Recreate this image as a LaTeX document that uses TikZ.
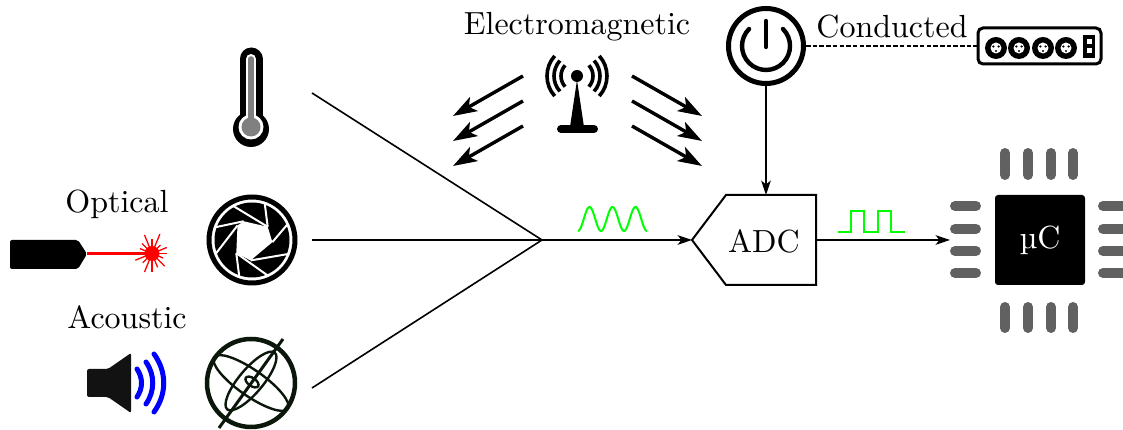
\documentclass[tikz,border=0pt]{standalone}
\usepackage{tikz}
\usetikzlibrary{
	arrows.meta,
	calc,
}
\def\px{0.3125pt}
\definecolor{chipgray}{gray}{0.38}
\definecolor{signal}{rgb}{0,1,0}
\definecolor{gimbal}{rgb}{0.04,0.09,0.04}
\tikzset{caption/.style={inner sep=0mm,font=\normalsize,}}
\tikzset{wire/.style={line width=1.6*\px,}}
\tikzset{signal line/.style={signal,line width=2*\px,}}
\tikzset{chip pin/.style={chipgray,line width=10*\px,line cap=round,}}
\tikzset{emission/.style={line width=3.4*\px,-{Stealth[length=7.5pt,width=5pt,inset=1.8pt]},}}
\tikzset{>={Stealth[length=4.5pt,width=3pt,inset=1.2pt]},}

\begin{document}
\begin{tikzpicture}[x=\px,y=-\px,wire]

\useasboundingbox (0,0) rectangle (1123,430);

\node[caption](electromagnetic) at(577,27){Electromagnetic};
\node[caption](conducted) at(892,27){Conducted};
\node[caption](optical) at(117,204){Optical};
\node[caption](acoustic) at(127,317){Acoustic};

\coordinate(thermo out) at(312,93);
\coordinate(optical out) at(312,240);
\coordinate(acoustic out) at(312,388);
\coordinate(mix) at(542,240);
\coordinate(adc in) at(692,240);
\coordinate(adc top) at(766,195);
\coordinate(adc out) at(816,240);
\coordinate(chip in) at(950,240);

\foreach \n in {thermo,optical,acoustic}{
	\draw (\n\space out) -- (mix);
}
\draw[->] (mix) -- (adc in);
\draw[->] (adc out) -- (chip in);

\draw[line width=2*\px] (adc in) -- (726,195) -- (816,195) -- (816,285) -- (726,285) -- cycle;
\node[caption](adc) at(764,241){ADC};

\draw[signal line,domain=578:647,samples=70,smooth] plot (\x,{219+12*cos((\x-578)/23*360)});
\draw[signal line] (838,232) -- (851,232) -- (851,211) -- (864,211) -- (864,232) -- (878,232) -- (878,211) -- (891,211) -- (891,232) -- (905,232);

\fill[black,rounded corners=3*\px] (995,195) -- (1085,195) -- (1085,285) -- (995,285) -- cycle;
\node[caption,white](chip) at(1040,240){\char"00B5 C};
\foreach \y in {206,229,251,273}{
	\draw[chip pin] (955,\y) -- (976,\y);
	\draw[chip pin] (1103,\y) -- (1130,\y);
}
\foreach \x in {1005,1028,1051,1073}{
	\draw[chip pin] (\x,153) -- (\x,175);
	\draw[chip pin] (\x,307) -- (\x,328);
}

\node[draw,circle,inner sep=0mm,minimum size=75*\px,line width=5*\px](power) at(766,46){};
\draw[line width=4.4*\px,line cap=round] (783,29) arc (-45:225:24);
\draw[line width=4.4*\px,line cap=round] (766,21) -- (766,47);
\draw[->] (power) -- (adc top);

\node[draw,rectangle,rounded corners=5*\px,inner sep=0mm,minimum width=123*\px,minimum height=36*\px,line width=3*\px](strip) at(1039.5,46){};
\draw[dash pattern=on 4.5*\px off 2.2*\px,line width=1.6*\px] (power) -- (strip);
\foreach \x in {996,1019,1043,1066}{
	\fill[black] (\x,48) circle (11);
	\fill[white] (\x,48) circle (5.5);
	\foreach \a in {90,-30,-150}{
		\fill[black] ($(\x,48)+(\a:3)$) circle (1.2);
	}
}
\fill[black] (1083,35) rectangle (1095,58);
\foreach \y in {42,51}{
	\fill[white] (1087,\y-2.5) rectangle (1092,\y+2.5);
}

\fill[black] (577,76) circle (6);
\fill[black] (577,80) -- (584,127) -- (570,127) -- cycle;
\draw[line width=8*\px,line cap=round] (561,129) -- (594,129);
\foreach \r in {16,23,30}{
	\draw[line width=3.6*\px] ($(577,76)+(-42:\r)$) arc (-42:42:\r);
	\draw[line width=3.6*\px] ($(577,76)+(138:\r)$) arc (138:222:\r);
}

\foreach \y in {76,101,126}{
	\coordinate(left start) at(523,\y);
	\coordinate(left tip) at(453,\y+40);
	\coordinate(right start) at(632,\y);
	\coordinate(right tip) at(702,\y+40);
	\draw[emission] (left start) -- (left tip);
	\draw[emission] (right start) -- (right tip);
}

\draw[line width=23*\px,line cap=round] (251,59) -- (251,127);
\fill[black] (251,129) circle (18);
\draw[white,line width=10*\px,line cap=round] (251,59) -- (251,127);
\fill[white] (251,127) circle (12.5);
\draw[black!50,line width=5.5*\px,line cap=round] (251,59) -- (251,127);
\fill[black!50] (251,127) circle (9.5);

\draw[line width=5*\px] (252,240) circle (43);
\fill[black] (252,240) circle (37.5);
\foreach \n/\a in {1/-40,2/6,3/94,4/140,5/225,6/246}{
	\coordinate(hole\n) at($(252,240)+(\a:20.5)$);
}
\fill[white] (hole1) -- (hole2) -- (hole3) -- (hole4) -- (hole5) -- (hole6) -- cycle;
\foreach \a/\n in {-119/1,-71/1,-24/2,21/3,66/4,109/4,159/5,199/6}{
	\draw[white,line width=2*\px] ($(252,240)+(\a:39)$) -- (hole\n);
}

\fill[black,rounded corners=2*\px] (10,240) -- (78,240) -- (87,254) -- (78,269) -- (10,269) -- cycle;
\draw[red,line width=3.2*\px] (87,253.5) -- (152,253.5);
\fill[red] (152,253.5) circle (7.5);
\foreach \a/\r in {0/15,22/12,45/18,68/15,90/19,112/20,135/13,158/18,180/15,202/13,225/14,248/20,270/14,292/21,315/12,338/16}{
	\draw[red,line width=1.3*\px] (152,253.5) -- ++(\a:\r);
}

\fill[black!93,rounded corners=2*\px] (87,369) -- (108,369) -- (131,353) -- (131,413) -- (108,397) -- (87,397) -- cycle;
\draw[blue,line width=5*\px,line cap=round] (137,369) .. controls (143,378) and (143,388) .. (137,397);
\draw[blue,line width=5*\px,line cap=round] (146,362) .. controls (155,375) and (155,391) .. (146,404);
\draw[blue,line width=5*\px,line cap=round] (154,354) .. controls (167,372) and (167,394) .. (154,412);

\draw[gimbal,line width=4.5*\px] (251,383) circle (44);
\draw[gimbal,line width=3*\px] (283,339) -- (219,428);
\draw[gimbal,line width=2.4*\px,rotate around={50:(251,381)}] (251,381) ellipse [x radius=37,y radius=12];
\draw[gimbal,line width=2.4*\px,rotate around={-35:(251,383)}] (251,383) ellipse [x radius=45,y radius=13];
\draw[gimbal,line width=2.4*\px,rotate around={-35:(252,382)}] (252,382) ellipse [x radius=7.5,y radius=4];

\end{tikzpicture}
\end{document}
